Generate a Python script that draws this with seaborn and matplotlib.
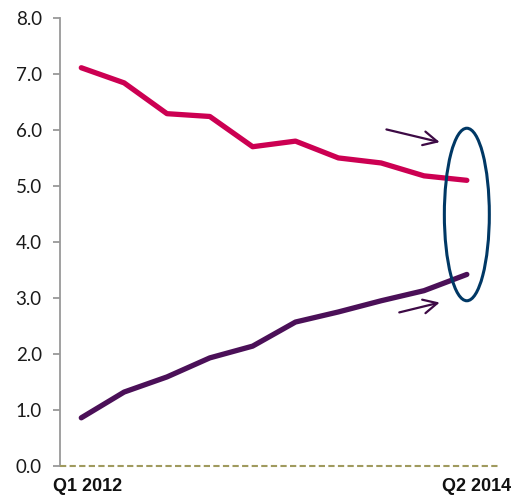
import numpy as np
import pandas as pd
import seaborn as sns
import matplotlib.pyplot as plt
from matplotlib.patches import Ellipse
from matplotlib.transforms import ScaledTranslation

quarters = list(range(10))
tick_labels = ['Q1 2012', 'Q2 2014']
upper_vals = [7.11, 6.84, 6.29, 6.24, 5.70, 5.80, 5.50, 5.41, 5.18, 5.10]
lower_vals = [0.86, 1.32, 1.59, 1.93, 2.14, 2.57, 2.75, 2.95, 3.13, 3.42]
y_ticks = [0, 1, 2, 3, 4, 5, 6, 7, 8]

df = pd.DataFrame({
    'quarter': quarters * 2,
    'value': upper_vals + lower_vals,
    'series': ['upper'] * 10 + ['lower'] * 10,
})

sns.set_style('white')
plt.rcParams['font.family'] = ['Lato', 'DejaVu Sans']

fig = plt.figure(figsize=(5.16, 4.97), dpi=100)
ax = fig.add_axes([0.116, 0.0624, 0.851, 0.9016])

sns.lineplot(data=df, x='quarter', y='value', hue='series',
             palette={'upper': '#CC0052', 'lower': '#4B1058'},
             linewidth=3.8, legend=False, ax=ax)

ax.set_xlim(-0.5, 9.75)
ax.set_ylim(0, 8)
ax.set_yticks(y_ticks)
ax.set_yticklabels([f'{v:.1f}' for v in y_ticks], fontsize=13.5, color='#1a1a1a')
ax.set_xticks([])
ax.set_xlabel('')
ax.set_ylabel('')

# x labels only at first and last quarter, nudged right like the original
for q, lab, dx in [(quarters[0], tick_labels[0], 6), (quarters[-1], tick_labels[1], 10)]:
    tr = ax.get_xaxis_transform() + ScaledTranslation(dx / 100, -12 / 100, fig.dpi_scale_trans)
    ax.text(q, 0, lab, transform=tr, ha='center', va='top', fontsize=13,
            fontweight='bold', family=['Liberation Sans', 'DejaVu Sans'], color='#111111')

for s in ['top', 'right', 'bottom']:
    ax.spines[s].set_visible(False)
ax.spines['left'].set_color('#999999')
ax.spines['left'].set_linewidth(1.3)
ax.tick_params(axis='y', left=True, length=5, width=1.3, color='#999999', pad=8)

ax.axhline(0, color='#A09A5E', linewidth=1.5, linestyle=(0, (3, 1.6)),
           zorder=3, clip_on=False)

# callout ellipse and arrows
ax.add_patch(Ellipse((9.0, 4.49), 1.05, 3.08, fill=False,
                     edgecolor='#003865', linewidth=2.2, zorder=5))
arrow_kw = dict(arrowstyle='->,head_length=1.0,head_width=0.5',
                color='#3D0A45', lw=1.6)
ax.annotate('', xy=(8.43, 5.77), xytext=(7.06, 6.02), arrowprops=arrow_kw)
ax.annotate('', xy=(8.43, 2.93), xytext=(7.36, 2.73), arrowprops=arrow_kw)

fig.savefig('out.png', dpi=100)
